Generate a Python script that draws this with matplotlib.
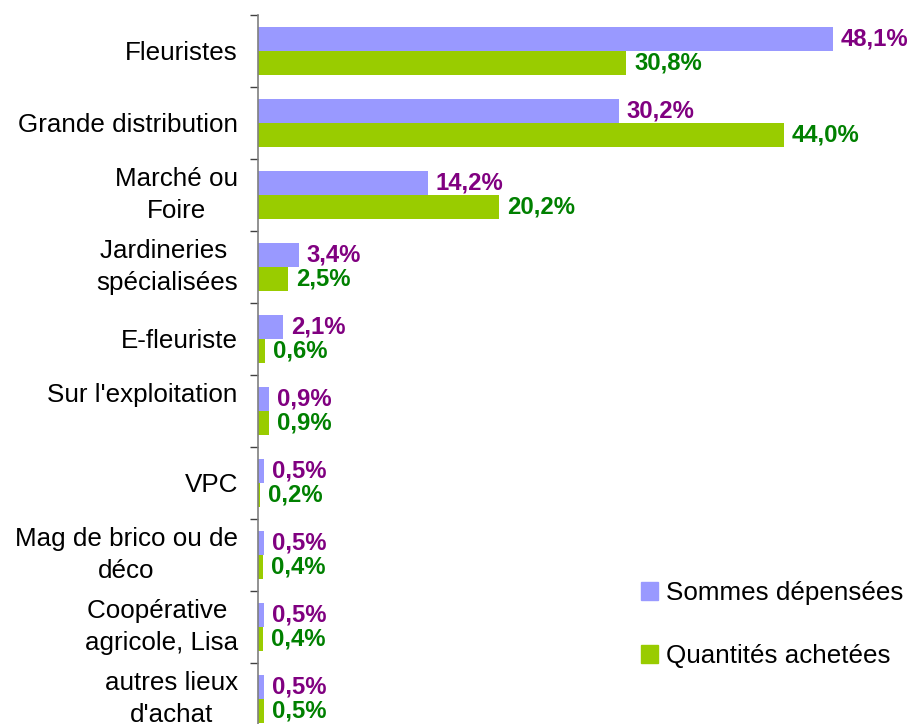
import numpy as np
import matplotlib.pyplot as plt
from matplotlib.patches import Patch

plt.rcParams['font.family'] = ['Liberation Sans', 'DejaVu Sans']

categories = ["Fleuristes", "Grande distribution", "Marché ou\nFoire",
              "Jardineries \nspécialisées", "E-fleuriste", "Sur l'exploitation\n ",
              "VPC", "Mag de brico ou de\ndéco", "Coopérative \nagricole, Lisa",
              "autres lieux\nd'achat"]
sommes = [48.1, 30.2, 14.2, 3.4, 2.1, 0.9, 0.5, 0.5, 0.5, 0.5]
quantites = [30.8, 44.0, 20.2, 2.5, 0.6, 0.9, 0.2, 0.4, 0.4, 0.5]
series_names = ["Sommes dépensées", "Quantités achetées"]

c_bar1, c_bar2 = '#9999FF', '#99CC00'
c_txt1, c_txt2 = '#800080', '#008000'

W, H = 911, 724
fig = plt.figure(figsize=(W / 100, H / 100), dpi=100)
px_per_pct = 11.95
xmax = 54
ax = fig.add_axes([258 / W, 1 - 735 / H, xmax * px_per_pct / W, 720 / H])

y = np.arange(len(categories))
bh = 1 / 3
ax.barh(y - bh / 2, sommes, height=bh, color=c_bar1)
ax.barh(y + bh / 2, quantites, height=bh, color=c_bar2)

off = 8 / px_per_pct
for yi, v in zip(y, sommes):
    ax.text(v + off, yi - bh / 2, f"{v:.1f}%".replace('.', ','), color=c_txt1,
            fontsize=17.2, fontweight='bold', va='center', ha='left')
for yi, v in zip(y, quantites):
    ax.text(v + off, yi + bh / 2, f"{v:.1f}%".replace('.', ','), color=c_txt2,
            fontsize=17.2, fontweight='bold', va='center', ha='left')

ax.set_xlim(0, xmax)
ax.set_ylim(len(categories) - 0.5, -0.5)
ax.set_yticks(y)
ax.set_yticklabels(categories, fontsize=18.7, multialignment='center', linespacing=1.38)
for lab in ax.get_yticklabels():
    if '\n' in lab.get_text():
        lab.set_va('center')
ax.tick_params(axis='y', which='major', length=0, pad=14.5)
ax.set_yticks(np.arange(len(categories) + 1) - 0.5, minor=True)
ax.tick_params(axis='y', which='minor', length=6, width=1, color='#404040', direction='out')
ax.set_xticks([])
for s in ['top', 'right', 'bottom']:
    ax.spines[s].set_visible(False)
ax.spines['left'].set_color('#7f7f7f')
ax.spines['left'].set_linewidth(1.2)

handles = [Patch(color=c_bar1, label=series_names[0]),
           Patch(color=c_bar2, label=series_names[1])]
fig.legend(handles=handles, loc='upper left', bbox_to_anchor=(641 / W, 1 - 581 / H),
           frameon=False, fontsize=18.7, handlelength=0.65, handleheight=0.65,
           handletextpad=0.3, labelspacing=1.5, borderpad=0, borderaxespad=0)

fig.savefig('out.png', dpi=100)
